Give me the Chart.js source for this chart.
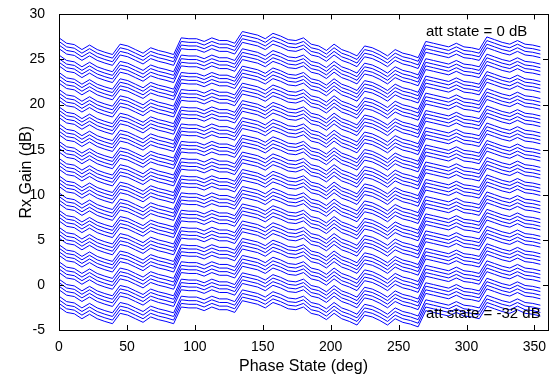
<!DOCTYPE html>
<html>
<head>
<meta charset="utf-8">
<script src="https://cdn.jsdelivr.net/npm/chart.js@4/dist/chart.umd.min.js"></script>
<style>
  html, body { margin: 0; padding: 0; background: #fff; }
  #wrap { width: 551px; height: 374px; }
</style>
</head>
<body>
<div id="wrap"><canvas id="rxchart"></canvas></div>
<script>
// phase states (deg), 64 of them
var phaseStates = [0, 5.625, 11.25, 16.875, 22.5, 28.125, 33.75, 39.375,
    45, 50.625, 56.25, 61.875, 67.5, 73.125, 78.75, 84.375,
    90, 95.625, 101.25, 106.875, 112.5, 118.125, 123.75, 129.375,
    135, 140.625, 146.25, 151.875, 157.5, 163.125, 168.75, 174.375,
    180, 185.625, 191.25, 196.875, 202.5, 208.125, 213.75, 219.375,
    225, 230.625, 236.25, 241.875, 247.5, 253.125, 258.75, 264.375,
    270, 275.625, 281.25, 286.875, 292.5, 298.125, 303.75, 309.375,
    315, 320.625, 326.25, 331.875, 337.5, 343.125, 348.75, 354.375];

// gain vs phase for att state = 0 dB (top trace)
var gainAtt0 = [27.4, 26.8, 26.65, 26.1, 26.6, 26.1, 25.8, 25.55,
    26.7, 26.5, 26.1, 25.7, 26.3, 26.0, 25.8, 25.55,
    27.4, 27.3, 27.3, 27.0, 27.4, 27.1, 27.1, 26.8,
    28.1, 27.9, 27.7, 27.3, 27.9, 27.6, 27.2, 27.1,
    27.4, 26.7, 26.5, 26.0, 26.7, 26.1, 25.8, 25.4,
    26.5, 26.3, 25.9, 25.4, 26.1, 25.7, 25.5, 25.2,
    27.0, 26.8, 26.6, 26.4, 26.8, 26.4, 26.3, 26.1,
    27.5, 27.2, 26.9, 26.7, 27.1, 26.7, 26.6, 26.4];

// att states (dB) and measured shift of each trace relative to the 0 dB trace
var attStates = [0, -0.5, -1, -1.5, -2, -2.5, -3, -3.5, -4, -4.5, -5, -5.5, -6, -6.5, -7, -7.5,
    -8, -8.5, -9, -9.5, -10, -10.5, -11, -11.5, -12, -12.5, -13, -13.5, -14, -14.5, -15, -15.5,
    -16, -16.5, -17, -17.5, -18, -18.5, -19, -19.5, -20, -20.5, -21, -21.5, -22, -22.5, -23, -23.5,
    -24, -24.5, -25, -25.5, -26, -26.5, -27, -27.5, -28, -28.5, -29, -29.5, -30, -30.5, -31, -31.5];
var attShift = [0, -0.4, -0.8, -1.2, -1.91, -2.31, -2.71, -3.11,
    -3.84, -4.22, -4.62, -5.02, -5.73, -6.13, -6.53, -6.93,
    -7.66, -8.04, -8.44, -8.84, -9.55, -9.95, -10.35, -10.75,
    -11.48, -11.86, -12.26, -12.66, -13.37, -13.77, -14.17, -14.57,
    -15.3, -15.68, -16.08, -16.48, -17.19, -17.59, -17.99, -18.39,
    -19.12, -19.5, -19.9, -20.3, -21.01, -21.41, -21.81, -22.21,
    -22.94, -23.32, -23.72, -24.12, -24.83, -25.23, -25.63, -26.03,
    -26.76, -27.14, -27.54, -27.94, -28.65, -29.05, -29.45, -29.85];

var xTicks = [0, 50, 100, 150, 200, 250, 300, 350];
var yTicks = [-5, 0, 5, 10, 15, 20, 25, 30];

var datasets = [];
for (var i = 0; i < attStates.length; i++) {
    var pts = [];
    for (var k = 0; k < phaseStates.length; k++) {
        pts.push({ x: phaseStates[k], y: gainAtt0[k] + attShift[i] });
    }
    datasets.push({
        label: 'att ' + attStates[i] + ' dB',
        data: pts,
        borderColor: '#0000ff',
        borderWidth: 1,
        pointRadius: 0,
        tension: 0,
        fill: false
    });
}

// matlab style box with inward ticks, plus the two text notes
var boxPlugin = {
    id: 'boxPlugin',
    afterDraw: function (chart) {
        var ctx = chart.ctx;
        var a = chart.chartArea;
        var xs = chart.scales.x, ys = chart.scales.y;
        ctx.save();
        ctx.strokeStyle = '#000';
        ctx.lineWidth = 1;
        ctx.strokeRect(Math.round(a.left) + 0.5, Math.round(a.top) + 0.5,
            Math.round(a.right - a.left), Math.round(a.bottom - a.top));
        ctx.beginPath();
        xTicks.forEach(function (t) {
            var px = Math.round(xs.getPixelForValue(t)) + 0.5;
            ctx.moveTo(px, a.bottom); ctx.lineTo(px, a.bottom - 5);
            ctx.moveTo(px, a.top); ctx.lineTo(px, a.top + 5);
        });
        yTicks.forEach(function (t) {
            var py = Math.round(ys.getPixelForValue(t)) + 0.5;
            ctx.moveTo(a.left, py); ctx.lineTo(a.left + 5, py);
            ctx.moveTo(a.right, py); ctx.lineTo(a.right - 5, py);
        });
        ctx.stroke();
        ctx.fillStyle = '#000';
        ctx.font = '15px "Liberation Sans", Arial, sans-serif';
        ctx.textBaseline = 'middle';
        ctx.textAlign = 'left';
        ctx.fillText('att state = 0 dB', 426, 32);
        ctx.fillText('att state = -32 dB', 426, 314);
        ctx.restore();
    }
};

Chart.defaults.font.family = '"Liberation Sans", Arial, sans-serif';
Chart.defaults.font.size = 14;
Chart.defaults.color = '#000';

new Chart(document.getElementById('rxchart'), {
    type: 'line',
    data: { datasets: datasets },
    options: {
        responsive: true,
        maintainAspectRatio: false,
        animation: false,
        layout: { padding: { top: 13, right: 3, left: 0, bottom: 0 } },
        plugins: { legend: { display: false }, tooltip: { enabled: false } },
        scales: {
            x: {
                type: 'linear',
                min: 0, max: 360,
                afterBuildTicks: function (s) { s.ticks = xTicks.map(function (v) { return { value: v }; }); },
                afterFit: function (s) { s.height = 44; },
                grid: { display: false },
                border: { display: false },
                ticks: { padding: 1, maxRotation: 0 },
                title: { display: true, text: 'Phase State (deg)', font: { size: 16 }, padding: { top: 0, bottom: -2 } }
            },
            y: {
                min: -5, max: 30,
                afterBuildTicks: function (s) { s.ticks = yTicks.map(function (v) { return { value: v }; }); },
                afterFit: function (s) { s.width = 59; },
                grid: { display: false },
                border: { display: false },
                ticks: { padding: 6 },
                title: { display: true, text: 'Rx Gain (dB)', font: { size: 16 }, padding: { top: 17, bottom: 0 } }
            }
        }
    },
    plugins: [boxPlugin]
});
</script>
</body>
</html>
